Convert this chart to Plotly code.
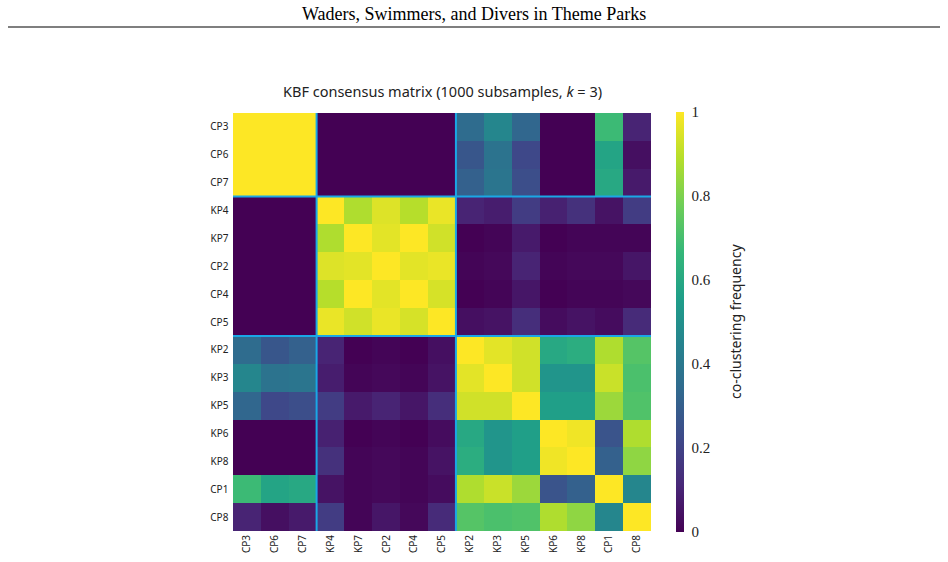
import plotly.graph_objects as go

labels = ["CP3", "CP6", "CP7", "KP4", "KP7", "CP2", "CP4", "CP5",
          "KP2", "KP3", "KP5", "KP6", "KP8", "CP1", "CP8"]
cluster_sizes = [3, 5, 7]

z = [
    # CP3  CP6  CP7  KP4  KP7  CP2  CP4  CP5  KP2  KP3  KP5  KP6  KP8  CP1  CP8
    [1.00, 1.00, 1.00, 0.00, 0.00, 0.00, 0.00, 0.00, 0.35, 0.46, 0.33, 0.00, 0.00, 0.68, 0.10],  # CP3
    [1.00, 1.00, 1.00, 0.00, 0.00, 0.00, 0.00, 0.00, 0.27, 0.38, 0.22, 0.00, 0.00, 0.58, 0.04],  # CP6
    [1.00, 1.00, 1.00, 0.00, 0.00, 0.00, 0.00, 0.00, 0.31, 0.39, 0.24, 0.00, 0.00, 0.60, 0.07],  # CP7
    [0.00, 0.00, 0.00, 1.00, 0.88, 0.95, 0.89, 0.97, 0.10, 0.08, 0.18, 0.09, 0.14, 0.05, 0.18],  # KP4
    [0.00, 0.00, 0.00, 0.88, 1.00, 0.96, 1.00, 0.93, 0.00, 0.01, 0.07, 0.00, 0.01, 0.01, 0.01],  # KP7
    [0.00, 0.00, 0.00, 0.95, 0.96, 1.00, 0.96, 0.97, 0.01, 0.02, 0.10, 0.01, 0.02, 0.02, 0.06],  # CP2
    [0.00, 0.00, 0.00, 0.89, 1.00, 0.96, 1.00, 0.94, 0.00, 0.01, 0.06, 0.00, 0.01, 0.01, 0.02],  # CP4
    [0.00, 0.00, 0.00, 0.97, 0.93, 0.97, 0.94, 1.00, 0.04, 0.05, 0.13, 0.03, 0.05, 0.03, 0.12],  # CP5
    [0.35, 0.27, 0.31, 0.10, 0.00, 0.01, 0.00, 0.04, 1.00, 0.96, 0.93, 0.60, 0.62, 0.88, 0.73],  # KP2
    [0.46, 0.38, 0.39, 0.08, 0.01, 0.02, 0.01, 0.05, 0.96, 1.00, 0.93, 0.52, 0.52, 0.92, 0.71],  # KP3
    [0.33, 0.22, 0.24, 0.18, 0.07, 0.10, 0.06, 0.13, 0.93, 0.93, 1.00, 0.56, 0.56, 0.85, 0.72],  # KP5
    [0.00, 0.00, 0.00, 0.09, 0.00, 0.01, 0.00, 0.03, 0.60, 0.52, 0.56, 1.00, 0.98, 0.26, 0.88],  # KP6
    [0.00, 0.00, 0.00, 0.14, 0.01, 0.02, 0.01, 0.05, 0.62, 0.52, 0.56, 0.98, 1.00, 0.31, 0.83],  # KP8
    [0.68, 0.58, 0.60, 0.05, 0.01, 0.02, 0.01, 0.03, 0.88, 0.92, 0.85, 0.26, 0.31, 1.00, 0.46],  # CP1
    [0.10, 0.04, 0.07, 0.18, 0.01, 0.06, 0.02, 0.12, 0.73, 0.71, 0.72, 0.88, 0.83, 0.46, 1.00],  # CP8
]

cb_vals = [0, 0.2, 0.4, 0.6, 0.8, 1]
cb_text = ["0", "0.2", "0.4", "0.6", "0.8", "1"]

W, H = 948, 562
x0, x1 = 232, 652
y0, y1 = 112, 532

fig = go.Figure()
fig.add_trace(go.Heatmap(
    z=z, x=labels, y=labels,
    colorscale="Viridis", zmin=0, zmax=1,
    xgap=0, ygap=0,
    colorbar=dict(
        x=676 / W, xanchor="left", y=(H - y1) / H, yanchor="bottom",
        len=(y1 - y0) / H, lenmode="fraction", thickness=8,
        outlinewidth=0, ticks="outside", ticklen=5, tickcolor="rgba(0,0,0,0)",
        tickvals=cb_vals, ticktext=cb_text,
        tickfont=dict(family="Liberation Serif, serif", size=15, color="#222"),
        ypad=0, xpad=0,
    ),
))

# cluster boundary lines
n = len(labels)
bounds = []
acc = 0
for s in cluster_sizes[:-1]:
    acc += s
    bounds.append(acc - 0.5)
shapes = []
for b in bounds:
    shapes.append(dict(type="line", xref="x", yref="y", x0=b, x1=b, y0=-0.5, y1=n - 0.5,
                       line=dict(color="#1aa7e6", width=2)))
    shapes.append(dict(type="line", xref="x", yref="y", y0=b, y1=b, x0=-0.5, x1=n - 0.5,
                       line=dict(color="#1aa7e6", width=2)))
# header rule
shapes.append(dict(type="line", xref="paper", yref="paper", x0=8 / W, x1=940 / W,
                   y0=1 - 27 / H, y1=1 - 27 / H, line=dict(color="black", width=1.2)))

fig.update_layout(
    width=W, height=H,
    margin=dict(l=0, r=0, t=0, b=0),
    paper_bgcolor="white", plot_bgcolor="white",
    shapes=shapes,
    xaxis=dict(domain=[x0 / W, x1 / W], tickangle=-90, showgrid=False, zeroline=False,
               ticks="", tickfont=dict(family="Noto Sans, sans-serif", size=10, color="#222"),
               showline=False),
    yaxis=dict(domain=[(H - y1) / H, (H - y0) / H], autorange="reversed", showgrid=False,
               zeroline=False, ticks="", ticksuffix=" ",
               tickfont=dict(family="Noto Sans, sans-serif", size=10, color="#222"),
               showline=False),
    annotations=[
        dict(text="Waders, Swimmers, and Divers in Theme Parks", xref="paper", yref="paper",
             x=0.5, y=1 - 14 / H, xanchor="center", yanchor="middle", showarrow=False,
             font=dict(family="Liberation Serif, serif", size=18, color="black")),
        dict(text="KBF consensus matrix (1000 subsamples, <i>k</i> = 3)", xref="paper", yref="paper",
             x=(x0 + x1) / 2 / W, y=1 - 91 / H, xanchor="center", yanchor="middle", showarrow=False,
             font=dict(family="Noto Sans, sans-serif", size=14.5, color="#222")),
        dict(text="co-clustering frequency", xref="paper", yref="paper",
             x=735 / W, y=(H - (y0 + y1) / 2) / H, xanchor="center", yanchor="middle",
             textangle=-90, showarrow=False,
             font=dict(family="Noto Sans, sans-serif", size=14, color="#222")),
    ],
)

fig.write_html("out.html")
